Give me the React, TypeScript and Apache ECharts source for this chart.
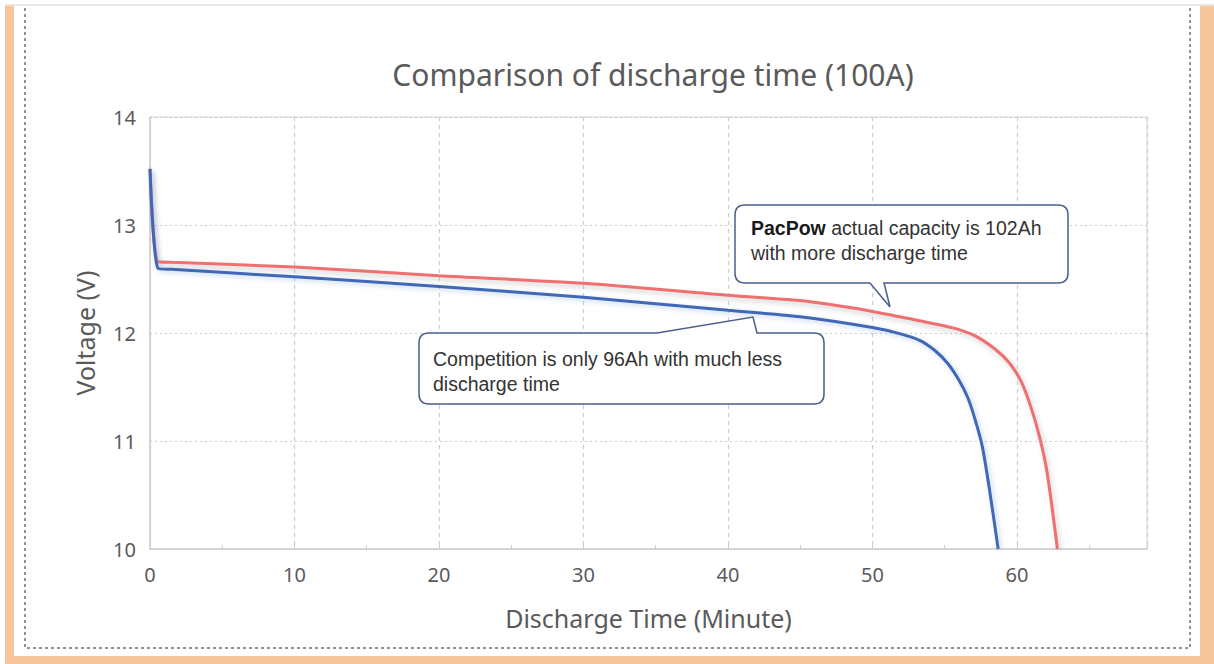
import React, { useEffect, useRef } from "react";
import * as echarts from "echarts";

const titleText = "Comparison of discharge time (100A)";
const xAxisName = "Discharge Time (Minute)";
const yAxisName = "Voltage (V)";

const competitionX = [0, 0.55, 1.5, 10, 20, 30, 40, 45, 50, 52, 53.3, 54.3, 55.2, 56, 56.6, 57.1, 57.6, 58.1, 58.7];
const competitionY = [13.52, 12.6, 12.59, 12.52, 12.43, 12.33, 12.21, 12.15, 12.05, 11.99, 11.93, 11.84, 11.72, 11.56, 11.4, 11.2, 10.95, 10.55, 10.0];

const pacpowX = [0, 0.55, 1.5, 10, 20, 30, 40, 45, 50, 53, 55.5, 57, 58.5, 59.5, 60.3, 61, 61.6, 62.1, 62.8];
const pacpowY = [13.52, 12.66, 12.655, 12.61, 12.53, 12.46, 12.35, 12.3, 12.2, 12.12, 12.05, 11.98, 11.85, 11.72, 11.55, 11.3, 11.02, 10.7, 10.0];

const calloutPac = "M745,205 H1058 Q1068,205 1068,215 V273 Q1068,283 1058,283 H884 L890,307 L870,283 H745 Q735,283 735,273 V215 Q735,205 745,205 Z";
const calloutComp = "M429,333 H657 L753,317 L757,333 H814 Q824,333 824,343 V394 Q824,404 814,404 H429 Q419,404 419,394 V343 Q419,333 429,333 Z";

echarts.graphic.registerShape("calloutPac", echarts.graphic.extendPath(calloutPac, {}));
echarts.graphic.registerShape("calloutComp", echarts.graphic.extendPath(calloutComp, {}));

export default function App() {
  const ref = useRef<HTMLDivElement>(null);
  useEffect(() => {
    if (!ref.current) return;
    const chart = echarts.init(ref.current, null, { renderer: "svg" });
    const font = "'Noto Sans', 'Open Sans', sans-serif";
    const calloutFont = "'Liberation Sans', Arial, sans-serif";
    const gray = "#5a5a5a";
    chart.setOption({
      animation: false,
      backgroundColor: "#ffffff",
      title: {
        text: titleText,
        left: 648,
        top: 54,
        textAlign: "center",
        textStyle: { fontFamily: font, fontSize: 30, fontWeight: "normal", color: gray },
      },
      grid: {
        left: 150,
        right: 67,
        top: 117,
        bottom: 115,
        show: true,
        borderColor: "#d4d4d4",
        borderWidth: 1,
      },
      xAxis: {
        type: "value",
        min: 0,
        max: 69,
        interval: 10,
        name: xAxisName,
        nameLocation: "middle",
        nameGap: 56,
        nameTextStyle: { fontFamily: font, fontSize: 25, color: gray },
        axisLine: { show: true, lineStyle: { color: "#cfcfcf", width: 1.5 } },
        axisTick: { show: true, inside: true, length: 4, lineStyle: { color: "#cfcfcf" } },
        minorTick: { show: true, splitNumber: 2, length: 4, lineStyle: { color: "#cfcfcf" } },
        axisLabel: { fontFamily: font, fontSize: 20, color: gray, margin: 15, showMaxLabel: false },
        splitLine: { show: true, lineStyle: { color: "#cccccc", type: [4, 4], width: 1.2 } },
      },
      yAxis: {
        type: "value",
        min: 10,
        max: 14,
        interval: 1,
        name: yAxisName,
        nameLocation: "middle",
        nameGap: 53,
        nameTextStyle: { fontFamily: font, fontSize: 25, color: gray },
        axisLine: { show: true, lineStyle: { color: "#cfcfcf", width: 1.5 } },
        axisTick: { show: false },
        minorTick: { show: false },
        axisLabel: { fontFamily: font, fontSize: 20, color: gray, margin: 14 },
        splitLine: { show: true, lineStyle: { color: "#cccccc", type: [2, 3], width: 1.2 } },
      },
      series: [
        {
          name: "PacPow",
          type: "line",
          data: pacpowX.map((x, i) => [x, pacpowY[i]]),
          showSymbol: false,
          smooth: 0.25,
          lineStyle: {
            color: "#ee6f6f",
            width: 3,
            shadowColor: "rgba(150,150,150,0.45)",
            shadowBlur: 5,
            shadowOffsetX: 2,
            shadowOffsetY: 3,
          },
          z: 2,
        },
        {
          name: "Competition",
          type: "line",
          data: competitionX.map((x, i) => [x, competitionY[i]]),
          showSymbol: false,
          smooth: 0.25,
          lineStyle: {
            color: "#3f68b6",
            width: 3,
            shadowColor: "rgba(120,160,220,0.45)",
            shadowBlur: 5,
            shadowOffsetX: 2,
            shadowOffsetY: 2,
          },
          z: 3,
        },
      ],
      graphic: [
        { type: "rect", shape: { x: 5, y: 5, width: 9, height: 659 }, style: { fill: "#f6c69a" }, z: 10 },
        { type: "rect", shape: { x: 1200, y: 5, width: 14, height: 659 }, style: { fill: "#f6c69a" }, z: 10 },
        { type: "rect", shape: { x: 5, y: 656, width: 1209, height: 8 }, style: { fill: "#f6c69a" }, z: 10 },
        { type: "rect", shape: { x: 5, y: 4, width: 1209, height: 2 }, style: { fill: "#ece6e2" }, z: 10 },
        {
          type: "polyline",
          shape: { points: [[25, 8], [25, 648], [1190, 648], [1190, 8]] },
          style: { stroke: "#707070", lineWidth: 1.5, lineDash: [3, 3], fill: null },
          z: 10,
        },
        {
          type: "calloutPac",
          x: 0,
          y: 0,
          style: { fill: "#ffffff", stroke: "#4a5f8c", lineWidth: 1.5 },
          z: 20,
        },
        {
          type: "text",
          x: 751,
          y: 215,
          style: {
            text: "{b|PacPow} actual capacity is 102Ah\nwith more discharge time",
            fontFamily: calloutFont,
            fontSize: 19.5,
            lineHeight: 25,
            fill: "#333333",
            rich: {
              b: { fontWeight: "bold", fontFamily: calloutFont, fontSize: 19.5, lineHeight: 25, fill: "#1a1a1a" },
            },
          },
          z: 21,
        },
        {
          type: "calloutComp",
          x: 0,
          y: 0,
          style: { fill: "#ffffff", stroke: "#4a5f8c", lineWidth: 1.5 },
          z: 20,
        },
        {
          type: "text",
          x: 433,
          y: 346,
          style: {
            text: "Competition is only 96Ah with much less\ndischarge time",
            fontFamily: calloutFont,
            fontSize: 19.5,
            lineHeight: 25,
            fill: "#333333",
          },
          z: 21,
        },
      ],
    });
    return () => chart.dispose();
  }, []);
  return (
    <div
      ref={ref}
      style={{ position: "fixed", left: 0, top: 0, width: 1214, height: 664 }}
    />
  );
}
